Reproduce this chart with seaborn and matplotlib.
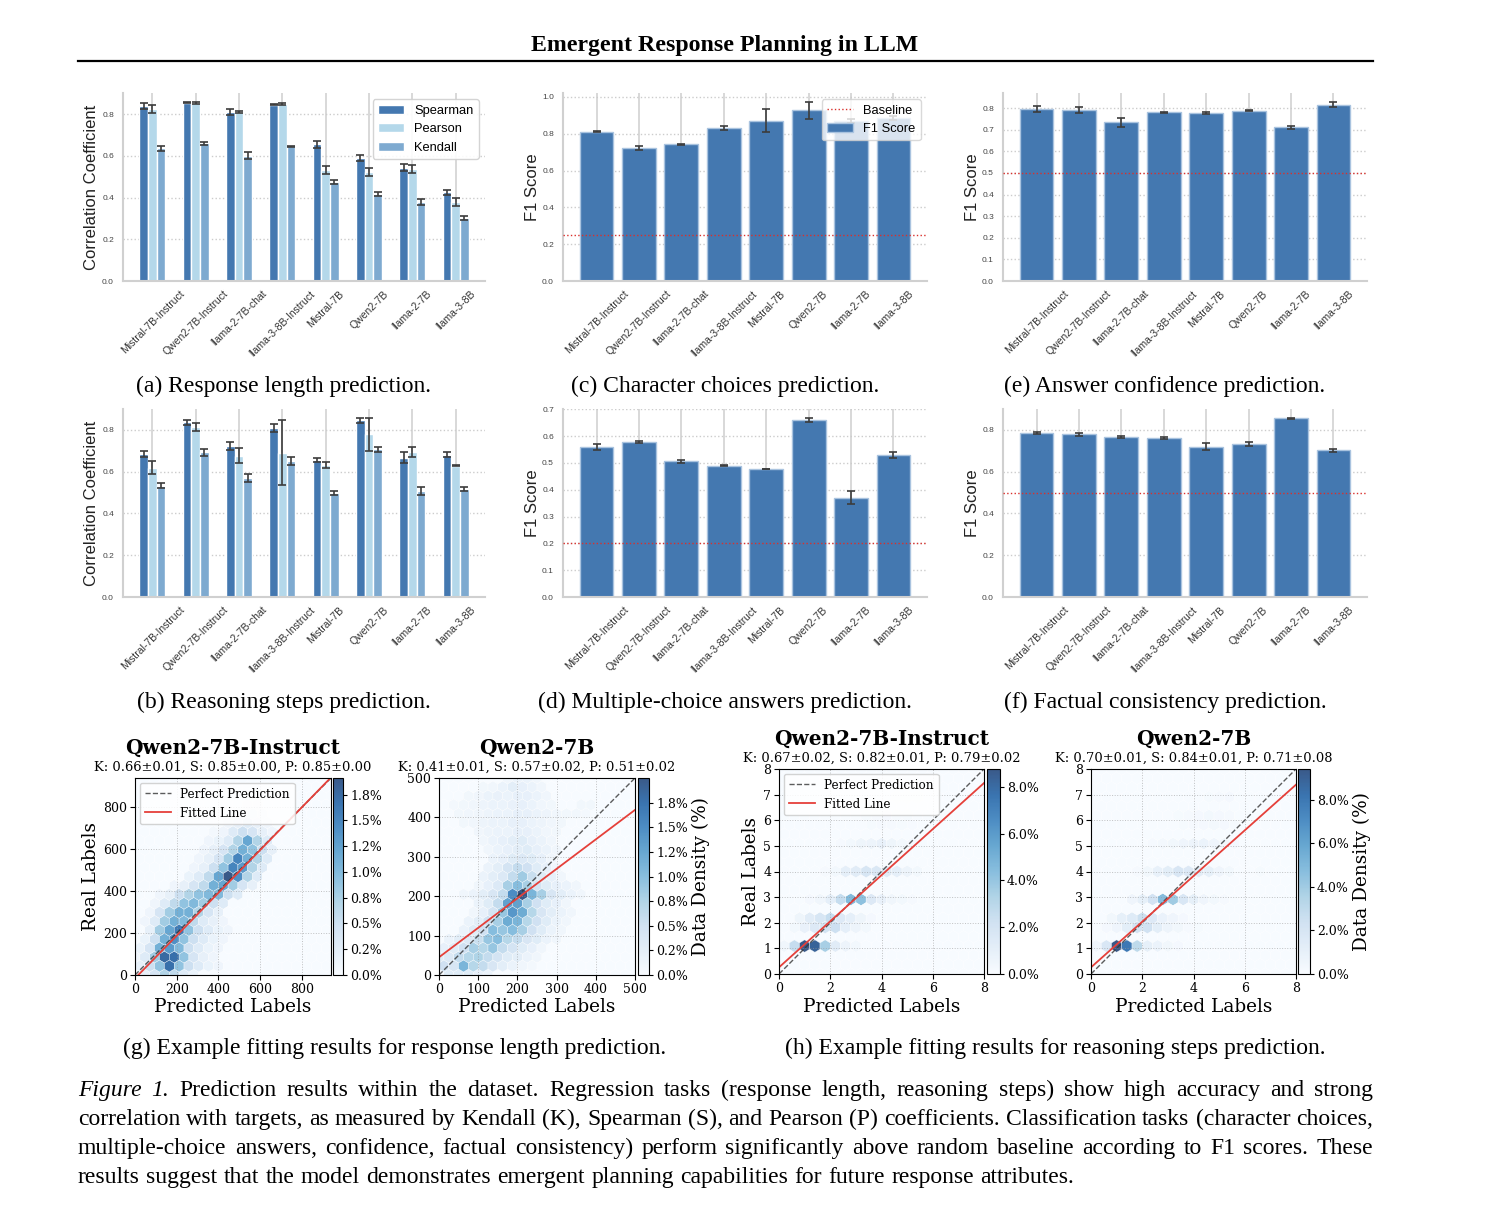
import numpy as np
import pandas as pd
import seaborn as sns
import matplotlib.pyplot as plt
from matplotlib.lines import Line2D
from matplotlib.patches import Patch
from matplotlib.container import BarContainer
from matplotlib.ticker import MultipleLocator, FuncFormatter

W, H = 1492, 1212
SANS = 'Liberation Sans'
SERIF = 'Liberation Serif'
DVS = 'DejaVu Serif'

# ---------------- data ----------------
models = ['Mistral-7B-Instruct', 'Qwen2-7B-Instruct', 'llama-2-7B-chat', 'llama-3-8B-Instruct',
          'Mistral-7B', 'Qwen2-7B', 'llama-2-7B', 'llama-3-8B']
metrics = ['Spearman', 'Pearson', 'Kendall']

# (a) response length
len_spear = [0.840, 0.856, 0.811, 0.845, 0.655, 0.589, 0.544, 0.425]
len_spear_err = [0.014, 0.003, 0.013, 0.002, 0.015, 0.015, 0.018, 0.012]
len_pear = [0.824, 0.853, 0.811, 0.848, 0.534, 0.522, 0.538, 0.380]
len_pear_err = [0.020, 0.005, 0.006, 0.006, 0.020, 0.020, 0.020, 0.020]
len_kend = [0.636, 0.660, 0.602, 0.647, 0.476, 0.417, 0.380, 0.304]
len_kend_err = [0.012, 0.008, 0.015, 0.003, 0.010, 0.010, 0.015, 0.010]

# (b) reasoning steps
steps_spear = [0.684, 0.837, 0.724, 0.808, 0.656, 0.845, 0.666, 0.682]
steps_spear_err = [0.013, 0.012, 0.020, 0.020, 0.010, 0.010, 0.027, 0.010]
steps_pear = [0.619, 0.813, 0.677, 0.690, 0.632, 0.779, 0.693, 0.629]
steps_pear_err = [0.030, 0.020, 0.038, 0.155, 0.015, 0.078, 0.025, 0.003]
steps_kend = [0.533, 0.692, 0.569, 0.651, 0.496, 0.706, 0.506, 0.517]
steps_kend_err = [0.012, 0.015, 0.018, 0.020, 0.010, 0.010, 0.020, 0.008]

# (c)-(f) classification F1
char_f1 = [0.812, 0.724, 0.742, 0.830, 0.872, 0.927, 0.868, 0.885]
char_err = [0.004, 0.010, 0.003, 0.010, 0.060, 0.046, 0.010, 0.010]
char_base = 0.25
mc_f1 = [0.561, 0.578, 0.506, 0.490, 0.477, 0.661, 0.371, 0.530]
mc_err = [0.011, 0.005, 0.005, 0.003, 0.001, 0.007, 0.025, 0.012]
mc_base = 0.2
conf_f1 = [0.794, 0.791, 0.733, 0.781, 0.778, 0.788, 0.711, 0.816]
conf_err = [0.013, 0.015, 0.020, 0.002, 0.005, 0.002, 0.008, 0.012]
conf_base = 0.5
fact_f1 = [0.784, 0.779, 0.765, 0.762, 0.720, 0.734, 0.855, 0.702]
fact_err = [0.006, 0.007, 0.005, 0.006, 0.016, 0.009, 0.002, 0.007]
fact_base = 0.5

# (g) response length density, Qwen2-7B-Instruct: real label rows, predicted values, density (%)
g1_real = [0, 43, 85, 128, 171, 214, 256, 299, 342, 385, 427, 470, 513, 556, 598, 641, 684, 727, 769, 812]
g1_pred = [[47, 94, 141, 188, 235, 282],
           [23, 70, 117, 164, 211, 258, 305, 352, 399],
           [0, 47, 94, 141, 188, 235, 282, 329, 376],
           [23, 70, 117, 164, 211, 258, 305, 352, 399],
           [47, 94, 141, 188, 235, 282, 329, 376, 423],
           [70, 117, 164, 211, 258, 305, 352, 399, 446],
           [47, 94, 141, 188, 235, 282, 329, 376, 423],
           [70, 117, 164, 211, 258, 305, 352, 399],
           [94, 141, 188, 235, 282, 329, 376, 423],
           [117, 164, 211, 258, 305, 352, 399, 446, 493],
           [188, 235, 282, 329, 376, 423, 470, 517, 564],
           [258, 305, 352, 399, 446, 493, 540, 587],
           [282, 329, 376, 423, 470, 517, 564, 611],
           [305, 352, 399, 446, 493, 540, 587, 634],
           [329, 376, 423, 470, 517, 564, 611, 658],
           [352, 399, 446, 493, 540, 587, 634],
           [376, 423, 470, 517, 564, 611, 658],
           [446, 493, 540, 587, 634],
           [517, 564, 611],
           [540, 587]]
g1_dens = [[0.2, 0.4, 0.7, 0.6, 0.3, 0.15],
           [0.2, 0.5, 0.9, 1.7, 0.9, 0.5, 0.3, 0.15, 0.1],
           [0.1, 0.3, 0.8, 1.75, 1.7, 0.9, 0.4, 0.2, 0.1],
           [0.15, 0.4, 1.1, 1.3, 1.0, 0.5, 0.3, 0.15, 0.1],
           [0.15, 0.5, 1.1, 1.4, 0.9, 0.5, 0.3, 0.15, 0.1],
           [0.2, 0.8, 1.2, 1.6, 0.9, 0.5, 0.3, 0.15, 0.1],
           [0.1, 0.3, 0.8, 1.1, 1.0, 0.6, 0.3, 0.2, 0.1],
           [0.1, 0.4, 0.8, 1.1, 1.1, 0.7, 0.4, 0.2],
           [0.1, 0.3, 0.6, 0.9, 1.0, 0.8, 0.5, 0.3],
           [0.1, 0.2, 0.5, 0.7, 0.9, 1.0, 1.0, 0.5, 0.3],
           [0.1, 0.2, 0.4, 0.6, 1.1, 1.2, 0.8, 0.4, 0.2],
           [0.15, 0.3, 0.6, 1.2, 1.91, 1.4, 0.7, 0.3],
           [0.1, 0.2, 0.5, 0.9, 1.5, 1.3, 0.7, 0.3],
           [0.1, 0.2, 0.4, 0.8, 1.5, 1.1, 0.7, 0.3],
           [0.1, 0.2, 0.4, 0.7, 1.1, 0.9, 0.5, 0.2],
           [0.1, 0.15, 0.3, 0.7, 1.2, 0.7, 0.3],
           [0.05, 0.1, 0.3, 0.5, 0.4, 0.2, 0.1],
           [0.1, 0.2, 0.3, 0.2, 0.1],
           [0.1, 0.15, 0.1],
           [0.05, 0.05]]

# (g) response length density, Qwen2-7B
g2_real = [0, 23, 45, 68, 91, 114, 136, 159, 182, 205, 227, 250, 273, 295, 318, 341, 364, 386, 409, 432, 455, 477, 500]
g2_pred = [[25, 50, 75, 100, 125],
           [12, 37, 62, 87, 112, 137, 162, 187, 212, 237],
           [0, 25, 50, 75, 100, 125, 150, 175, 200, 225, 250],
           [12, 37, 62, 87, 112, 137, 162, 187, 212, 237, 262],
           [25, 50, 75, 100, 125, 150, 175, 200, 225, 250, 275, 300],
           [62, 87, 112, 137, 162, 187, 212, 237, 262, 287, 312],
           [75, 100, 125, 150, 175, 200, 225, 250, 275, 300, 325],
           [87, 112, 137, 162, 187, 212, 237, 262, 287, 312, 337],
           [100, 125, 150, 175, 200, 225, 250, 275, 300, 325],
           [62, 87, 112, 137, 162, 187, 212, 237, 262, 287, 312, 337, 362],
           [100, 125, 150, 175, 200, 225, 250, 275, 300, 325, 350],
           [112, 137, 162, 187, 212, 237, 262, 287, 312],
           [125, 150, 175, 200, 225, 250, 275, 300],
           [137, 162, 187, 212, 237, 262, 287],
           [125, 150, 175, 200, 225, 250, 275, 300],
           [112, 137, 162, 187, 212, 237, 262, 287],
           [100, 125, 150, 175, 200, 225, 250, 275, 300],
           [62, 87, 112, 137, 162, 187, 212, 237, 262, 287, 312],
           [50, 75, 100, 125, 150, 175, 200, 225, 250, 275, 300, 325, 350, 375],
           [37, 62, 87, 112, 137, 162, 187, 212, 237, 262, 287, 362, 387],
           [75, 100, 125, 150, 175, 200, 225, 250, 275],
           [112, 137, 162, 187, 212, 237, 262],
           [175, 200, 225, 250]]
g2_dens = [[0.3, 0.3, 0.3, 0.2, 0.15],
           [0.5, 0.4, 1.1, 0.7, 0.6, 0.4, 0.25, 0.15, 0.1, 0.05],
           [0.3, 0.35, 0.6, 0.7, 0.75, 0.6, 0.45, 0.3, 0.25, 0.15, 0.1],
           [0.2, 0.3, 0.5, 0.8, 0.7, 0.9, 0.6, 0.45, 0.3, 0.2, 0.1],
           [0.15, 0.25, 0.35, 0.55, 0.9, 1.0, 0.7, 0.6, 0.4, 0.3, 0.15, 0.1],
           [0.15, 0.3, 0.5, 1.0, 0.9, 1.0, 0.8, 0.5, 0.3, 0.15, 0.1],
           [0.15, 0.25, 0.5, 0.8, 1.2, 1.1, 0.7, 0.5, 0.3, 0.15, 0.1],
           [0.1, 0.2, 0.45, 0.9, 1.4, 1.2, 0.7, 0.4, 0.25, 0.15, 0.1],
           [0.15, 0.3, 0.6, 1.3, 1.3, 0.8, 0.5, 0.3, 0.2, 0.1],
           [0.1, 0.15, 0.25, 0.4, 0.6, 1.5, 2.0, 1.1, 0.8, 0.4, 0.25, 0.15, 0.1],
           [0.1, 0.2, 0.35, 0.8, 1.0, 0.8, 0.45, 0.3, 0.2, 0.15, 0.1],
           [0.15, 0.25, 0.35, 0.6, 0.85, 0.55, 0.3, 0.2, 0.1],
           [0.15, 0.25, 0.45, 0.6, 0.5, 0.3, 0.2, 0.1],
           [0.15, 0.2, 0.3, 0.35, 0.3, 0.2, 0.1],
           [0.1, 0.15, 0.2, 0.25, 0.3, 0.2, 0.15, 0.1],
           [0.1, 0.15, 0.2, 0.25, 0.3, 0.2, 0.15, 0.1],
           [0.1, 0.12, 0.15, 0.15, 0.2, 0.2, 0.15, 0.1, 0.08],
           [0.08, 0.1, 0.12, 0.15, 0.15, 0.2, 0.2, 0.15, 0.12, 0.1, 0.08],
           [0.08, 0.1, 0.1, 0.12, 0.15, 0.15, 0.2, 0.2, 0.15, 0.12, 0.1, 0.08, 0.08, 0.06],
           [0.06, 0.08, 0.1, 0.12, 0.15, 0.15, 0.18, 0.2, 0.15, 0.1, 0.08, 0.08, 0.08],
           [0.08, 0.1, 0.15, 0.18, 0.15, 0.2, 0.2, 0.15, 0.1],
           [0.08, 0.1, 0.15, 0.25, 0.2, 0.15, 0.1],
           [0.1, 0.15, 0.15, 0.1]]

# (h) reasoning steps density, Qwen2-7B-Instruct
h1_real = [1, 2, 3, 4, 5, 6, 7]
h1_pred = [[0.2, 0.6, 1.0, 1.4, 1.8, 2.2, 2.6, 3.0],
           [0.6, 0.8, 1.0, 1.2, 1.4, 1.6, 1.8, 2.0, 2.2, 2.4, 2.6, 2.8, 3.0, 3.2, 3.4, 3.6],
           [1.2, 1.6, 2.0, 2.4, 2.8, 3.2, 3.6, 4.0, 4.4, 4.8, 5.2],
           [1.8, 2.2, 2.6, 3.0, 3.4, 3.8, 4.2, 4.6, 5.0, 5.4],
           [2.4, 2.8, 3.2, 3.6, 4.0, 4.4, 4.8, 5.2, 5.6],
           [3.4, 3.6, 3.8, 4.0, 4.2, 4.4, 4.6, 4.8, 5.0, 5.2],
           [4.2, 4.6, 5.0, 5.4, 5.8]]
h1_dens = [[0.4, 2.5, 8.76, 8.3, 3.5, 1.2, 0.6, 0.3],
           [0.3, 0.5, 0.8, 1.2, 1.5, 1.8, 2.0, 2.5, 2.3, 1.5, 1.0, 1.0, 0.6, 0.5, 0.3, 0.2],
           [0.2, 0.4, 1.0, 2.5, 4.5, 4.2, 1.5, 0.8, 0.4, 0.3, 0.15],
           [0.15, 0.3, 1.0, 1.2, 1.8, 1.6, 1.2, 1.0, 0.6, 0.3],
           [0.15, 0.3, 0.5, 0.6, 0.8, 0.5, 0.3, 0.2, 0.1],
           [0.1, 0.1, 0.15, 0.15, 0.2, 0.15, 0.1, 0.1, 0.1, 0.05],
           [0.05, 0.1, 0.1, 0.1, 0.05]]

# (h) reasoning steps density, Qwen2-7B
h2_real = [1, 2, 3, 4, 5, 6, 7]
h2_pred = [[0.2, 0.6, 1.0, 1.4, 1.8, 2.2, 2.6, 3.0, 3.4],
           [0.6, 0.8, 1.0, 1.2, 1.4, 1.6, 1.8, 2.0, 2.2, 2.4, 2.6, 2.8, 3.0, 3.2, 3.4, 3.6, 3.8, 4.2],
           [1.6, 2.0, 2.4, 2.8, 3.2, 3.6, 4.0, 4.4, 4.8, 5.2],
           [1.8, 2.2, 2.6, 3.0, 3.4, 3.8, 4.2, 4.6, 5.0, 5.4, 6.6],
           [2.4, 2.8, 3.2, 3.6, 4.0, 4.4, 4.8, 5.2, 5.6],
           [3.4, 3.6, 3.8, 4.0, 4.2, 4.4, 4.6, 4.8, 5.0, 5.2, 5.4, 5.6],
           [4.6, 5.0, 5.4]]
h2_dens = [[0.5, 1.8, 9.4, 8.0, 3.0, 1.0, 0.7, 0.4, 0.2],
           [0.2, 0.4, 0.5, 1.0, 1.2, 1.5, 2.2, 2.5, 2.3, 1.6, 1.2, 0.8, 0.6, 0.5, 0.4, 0.2, 0.15, 0.1],
           [0.5, 1.0, 2.2, 4.8, 4.0, 1.8, 1.0, 0.5, 0.3, 0.15],
           [0.15, 0.4, 0.9, 1.2, 1.9, 1.6, 1.2, 1.0, 0.5, 0.3, 0.1],
           [0.15, 0.25, 0.4, 0.5, 0.6, 0.7, 0.5, 0.4, 0.2],
           [0.1, 0.1, 0.15, 0.15, 0.2, 0.2, 0.3, 0.25, 0.2, 0.2, 0.15, 0.1],
           [0.1, 0.15, 0.2]]

# fitted lines (slope, intercept) and K/S/P stats (mean, std)
g1_fit = [1.02, -16]
g2_fit = [0.748, 45]
h1_fit = [0.899, 0.26]
h2_fit = [0.891, 0.26]
g1_stats = [(0.66, 0.01), (0.85, 0.00), (0.85, 0.00)]
g2_stats = [(0.41, 0.01), (0.57, 0.02), (0.51, 0.02)]
h1_stats = [(0.67, 0.02), (0.82, 0.01), (0.79, 0.02)]
h2_stats = [(0.70, 0.01), (0.84, 0.01), (0.71, 0.08)]

corr_colors = ['#4478b0', '#b4d8ea', '#7eaad0']
f1_color = '#4478b0'
f1_edge = '#a9c3df'
base_color = '#d9302c'
err_color = '#3c3c3c'


def rect(l, t, r, b):
    return [l / W, 1 - b / H, (r - l) / W, (b - t) / H]


fig = plt.figure(figsize=(W / 100, H / 100), dpi=100)


def bar_containers(ax):
    return [c for c in ax.containers if isinstance(c, BarContainer)]


def finish_bar_axes(ax, ylabel, ystep, label_x):
    bars = [p for c in bar_containers(ax) for p in c]
    lo = min(p.get_x() for p in bars)
    hi = max(p.get_x() + p.get_width() for p in bars)
    pad = 0.05 * (hi - lo)
    ax.set_xlim(lo - pad, hi + pad)
    ax.set_xlabel('')
    ax.set_ylabel(ylabel, fontsize=12, family=SANS, color='#222222')
    ax.yaxis.set_label_coords(label_x, 0.5)
    ax.yaxis.set_major_locator(MultipleLocator(ystep))
    ax.yaxis.set_major_formatter(FuncFormatter(lambda v, p: f'{v:.1f}'))
    ax.tick_params(axis='y', labelsize=6, labelcolor='#444444', labelfontfamily=SANS, pad=3)
    ax.tick_params(axis='x', labelsize=7.5, labelcolor='#333333', labelfontfamily=SANS,
                   rotation=45, pad=2)
    ax.grid(axis='y', ls=':', color='#cccccc', lw=1)
    ax.grid(axis='x', ls='-', color='#d8d8d8', lw=1.4)
    for s in ['top', 'right']:
        ax.spines[s].set_visible(False)
    for s in ['left', 'bottom']:
        ax.spines[s].set_color('#d0d0d0')
        ax.spines[s].set_linewidth(1.5)


def add_errors(ax, containers, errs):
    for bars, err in zip(containers, errs):
        xs = [b.get_x() + b.get_width() / 2 for b in bars]
        hs = [b.get_height() for b in bars]
        ax.errorbar(xs, hs, yerr=err, fmt='none', ecolor=err_color, elinewidth=1.2,
                    capsize=3, capthick=1.2, zorder=4)


def corr_panel(px, vals, errs, legend):
    with sns.axes_style('whitegrid'):
        ax = fig.add_axes(rect(*px))
    df = pd.DataFrame({'Model': models * 3,
                       'Metric': [m for m in metrics for _ in models],
                       'Value': vals[0] + vals[1] + vals[2]})
    sns.barplot(data=df, x='Model', y='Value', hue='Metric', hue_order=metrics,
                palette=corr_colors, saturation=1, width=0.6, errorbar=None,
                edgecolor='white', linewidth=1, ax=ax, legend=legend, zorder=2)
    conts = bar_containers(ax)
    finish_bar_axes(ax, 'Correlation Coefficient', 0.2, -0.066)
    add_errors(ax, conts, errs)
    if legend:
        h, l = ax.get_legend_handles_labels()
        ax.legend(h, l, loc='upper right', prop={'family': SANS, 'size': 9.3},
                  frameon=True, framealpha=0.9, edgecolor='#d0d0d0', borderaxespad=0.5)
    return ax


def f1_panel(px, vals, errs, base, ystep, legend):
    with sns.axes_style('whitegrid'):
        ax = fig.add_axes(rect(*px))
    df = pd.DataFrame({'Model': models, 'F1': vals})
    sns.barplot(data=df, x='Model', y='F1', color=f1_color, saturation=1, width=0.8,
                errorbar=None, edgecolor=f1_edge, linewidth=1, ax=ax, zorder=2)
    conts = bar_containers(ax)
    finish_bar_axes(ax, 'F1 Score', ystep, -0.063)
    add_errors(ax, conts, [errs])
    ax.axhline(base, color=base_color, ls=':', lw=1, zorder=5)
    if legend:
        handles = [Line2D([], [], color=base_color, ls=':', lw=1),
                   Patch(facecolor=f1_color, edgecolor=f1_edge)]
        ax.legend(handles, ['Baseline', 'F1 Score'], loc='upper right',
                  prop={'family': SANS, 'size': 9.3}, frameon=True, framealpha=0.8,
                  edgecolor='#d0d0d0', borderaxespad=0.5)
    return ax


def hex_panel(ax_px, cb_px, real, pred, dens, lim, step, cstep, title, stats, fit,
              ylabel_x=None, legend=False, cbar_label=False):
    ax = fig.add_axes(rect(*ax_px))
    xs, ys, cs = [], [], []
    for r, p, d in zip(real, pred, dens):
        xs += p
        ys += [r] * len(p)
        cs += d
    bg = plt.cm.Blues(0.0)
    ax.set_facecolor((0.2 + 0.8 * bg[0], 0.2 + 0.8 * bg[1], 0.2 + 0.8 * bg[2]))
    hb = ax.hexbin(xs, ys, C=cs, reduce_C_function=np.sum, gridsize=20,
                   extent=(0, lim, 0, lim), cmap='Blues', vmin=0, mincnt=0, alpha=0.8,
                   edgecolors='white', linewidths=0.3)
    ax.set_xlim(0, lim)
    ax.set_ylim(0, lim)
    span = np.array(ax.get_xlim())
    ax.plot(span, span, ls='--', color='#333333', lw=1, alpha=0.8, label='Perfect Prediction')
    ax.plot(span, fit[0] * span + fit[1], color='#e5403a', lw=1.3, label='Fitted Line')
    ax.xaxis.set_major_locator(MultipleLocator(step[0]))
    ax.yaxis.set_major_locator(MultipleLocator(step[1]))
    ax.grid(True, ls=':', color='#999999', lw=0.7, alpha=0.6)
    ax.tick_params(labelsize=9, labelfontfamily=DVS, length=3.5, width=0.8, pad=2)
    for s in ax.spines.values():
        s.set_linewidth(0.8)
        s.set_color('black')
    ax.set_xlabel('Predicted Labels', fontsize=13.3, family=DVS)
    ax.xaxis.set_label_coords(0.5, -0.115)
    if ylabel_x is not None:
        ax.set_ylabel('Real Labels', fontsize=13.3, family=DVS)
        ax.yaxis.set_label_coords(ylabel_x, 0.5)
    ax.annotate(title, (0.5, 1), xycoords='axes fraction', xytext=(0, 21.5),
                textcoords='offset points', ha='center', va='center',
                fontsize=14.4, weight='bold', family=DVS)
    sub = ', '.join(f'{k}: {m:.2f}\u00b1{s:.2f}' for k, (m, s) in zip(['K', 'S', 'P'], stats))
    ax.annotate(sub, (0.5, 1), xycoords='axes fraction', xytext=(0, 8),
                textcoords='offset points', ha='center', va='center',
                fontsize=9.4, family=DVS)
    if legend:
        ax.legend(loc='upper left', prop={'family': DVS, 'size': 8.6}, framealpha=0.85,
                  borderaxespad=0.4, handlelength=2.2)
    cax = fig.add_axes(rect(*cb_px))
    cb = fig.colorbar(hb, cax=cax)
    cb.set_ticks(np.arange(0, hb.norm.vmax, cstep))
    cb.ax.yaxis.set_major_formatter(FuncFormatter(lambda v, p: f'{v:.1f}%'))
    cb.ax.tick_params(labelsize=9, labelfontfamily=DVS, length=3, width=0.8, pad=2)
    cb.outline.set_linewidth(0.8)
    if cbar_label:
        cb.set_label('Data Density (%)', fontsize=13.3, family=DVS, labelpad=3)
    return ax


# ---------------- layout ----------------
fig.text(725 / W, 1 - 45 / H, 'Emergent Response Planning in LLM', ha='center', va='center',
         fontsize=17.2, weight='bold', family=SERIF)
fig.add_artist(Line2D([78 / W, 1373 / W], [1 - 61 / H, 1 - 61 / H], color='black', lw=1.6))

corr_panel((123, 93, 485, 281), [len_spear, len_pear, len_kend],
           [len_spear_err, len_pear_err, len_kend_err], True)
corr_panel((123, 409, 485, 597), [steps_spear, steps_pear, steps_kend],
           [steps_spear_err, steps_pear_err, steps_kend_err], False)
f1_panel((563, 93, 927, 281), char_f1, char_err, char_base, 0.2, True)
f1_panel((563, 409, 927, 597), mc_f1, mc_err, mc_base, 0.1, False)
f1_panel((1003, 93, 1367, 281), conf_f1, conf_err, conf_base, 0.1, False)
f1_panel((1003, 409, 1367, 597), fact_f1, fact_err, fact_base, 0.2, False)

hex_panel((135, 778, 331, 975), (333, 778, 343, 975), g1_real, g1_pred, g1_dens, 940,
          (200, 200), 0.25, 'Qwen2-7B-Instruct', g1_stats, g1_fit, ylabel_x=-0.18, legend=True)
hex_panel((439, 778, 635, 975), (638, 778, 649, 975), g2_real, g2_pred, g2_dens, 500,
          (100, 100), 0.25, 'Qwen2-7B', g2_stats, g2_fit, cbar_label=True)
hex_panel((779, 769, 984, 974), (987, 769, 1000, 974), h1_real, h1_pred, h1_dens, 8,
          (2, 1), 2.0, 'Qwen2-7B-Instruct', h1_stats, h1_fit, ylabel_x=-0.093, legend=True)
hex_panel((1091, 769, 1296, 974), (1298, 769, 1310, 974), h2_real, h2_pred, h2_dens, 8,
          (2, 1), 2.0, 'Qwen2-7B', h2_stats, h2_fit, cbar_label=True)

captions = [(284, 386, '(a) Response length prediction.'),
            (725, 386, '(c) Character choices prediction.'),
            (1165, 386, '(e) Answer confidence prediction.'),
            (284, 702, '(b) Reasoning steps prediction.'),
            (725, 702, '(d) Multiple-choice answers prediction.'),
            (1165, 702, '(f) Factual consistency prediction.'),
            (395, 1048, '(g) Example fitting results for response length prediction.'),
            (1055, 1048, '(h) Example fitting results for reasoning steps prediction.')]
for cx, cy, s in captions:
    fig.text(cx / W, 1 - cy / H, s, ha='center', va='center', fontsize=17, family=SERIF)

# figure caption, justified line by line
CAP_SIZE = 17
cap_lines = [
    'Figure 1.  Prediction results within the dataset.  Regression tasks (response length, '
    'reasoning steps) show high accuracy and strong',
    'correlation with targets, as measured by Kendall (K), Spearman (S), and Pearson (P) '
    'coefficients. Classification tasks (character choices,',
    'multiple-choice answers, confidence, factual consistency) perform significantly above '
    'random baseline according to F1 scores. These',
    'results suggest that the model demonstrates emergent planning capabilities for future '
    'response attributes.']
renderer = fig.canvas.get_renderer()
for i, line in enumerate(cap_lines):
    words = line.split()
    y = 1 - (1096 + 29 * i) / H
    texts = []
    for j, w in enumerate(words):
        italic = (i == 0 and j < 2)
        texts.append(fig.text(0, y, w, fontsize=CAP_SIZE, family=SERIF, va='baseline',
                              style='italic' if italic else 'normal'))
    widths = [t.get_window_extent(renderer).width for t in texts]
    if i < len(cap_lines) - 1:
        gap = (1373 - 78 - sum(widths)) / (len(texts) - 1)
    else:
        gap = 0.27 * CAP_SIZE * 100 / 72
    x = 78
    for t, wd in zip(texts, widths):
        t.set_x(x / W)
        x += wd + gap

fig.savefig('out.png', dpi=100)
